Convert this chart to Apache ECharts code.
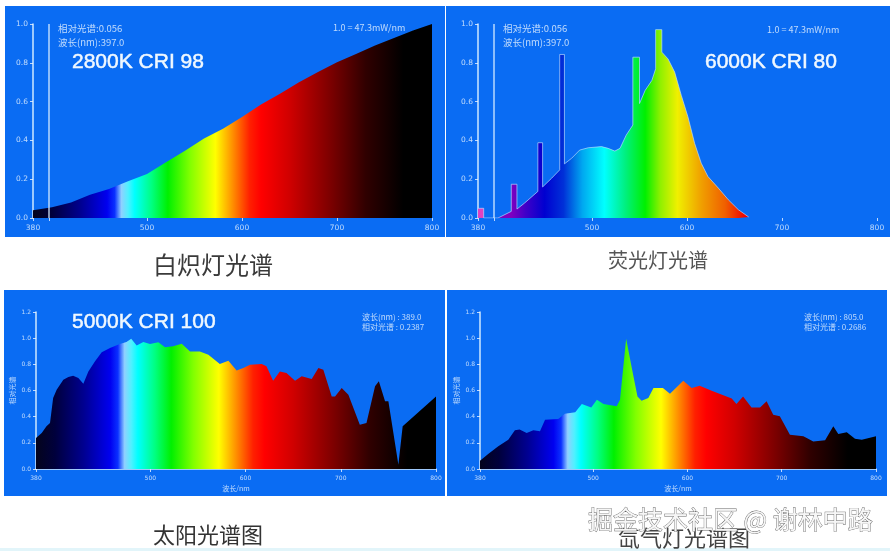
<!DOCTYPE html>
<html><head><meta charset="utf-8">
<style>html,body{margin:0;padding:0;background:#fff}#c{width:890px;height:551px;filter:blur(0.6px)}</style>
<script src="https://cdn.jsdelivr.net/npm/echarts@6/dist/echarts.min.js"></script>
</head><body><div id="c"></div>
<script>
// Wavelengths (nm) and relative spectral power
const incWl = [380,400,420,440,460,480,500,520,540,560,580,600,620,640,660,680,700,720,740,760,780,800];
const incVal = [0.04,0.056,0.08,0.12,0.15,0.19,0.227,0.287,0.347,0.41,0.46,0.52,0.585,0.64,0.70,0.752,0.803,0.846,0.889,0.928,0.966,1.0];

const fluoWl = [380,386,386,401,415,415,421,421,429,443,443,448,448,457.5,466,466,471,471,478.6,487,496,510,517,524,529.5,536,543,543,550,550,556,563,567,567,573.5,573.5,580,587,594,601,608,615,622,633,643.5,654,665];
const fluoVal = [0.05,0.05,0,0,0.034,0.174,0.174,0.046,0.077,0.137,0.388,0.388,0.16,0.205,0.248,0.843,0.843,0.279,0.308,0.35,0.362,0.368,0.359,0.345,0.359,0.427,0.479,0.829,0.829,0.59,0.658,0.709,0.769,0.971,0.971,0.855,0.82,0.752,0.632,0.521,0.385,0.282,0.214,0.154,0.094,0.043,0.005];

const sunWl = [380,386,391,394.7,398,401.7,408.7,414,419,424.5,429.7,435,442,449,457.7,468,475,480,485.7,492.7,499.7,508.5,515.5,524,533,541.7,552,561,573,582,590.7,597.7,604.7,617,622,629,636,643,652,659,669.5,676.5,681.7,690.5,694,701,708,720,727,736,740,746.5,750,760.5,765,800];
const sunVal = [0.237,0.275,0.326,0.352,0.543,0.606,0.683,0.703,0.713,0.696,0.652,0.746,0.823,0.892,0.925,0.955,0.971,0.996,0.943,0.971,0.955,0.968,0.93,0.938,0.958,0.899,0.899,0.874,0.803,0.828,0.752,0.772,0.797,0.803,0.785,0.675,0.746,0.734,0.675,0.708,0.688,0.772,0.759,0.555,0.555,0.619,0.568,0.339,0.352,0.632,0.67,0.517,0.517,0.033,0.326,0.555];

const xenonWl = [380,389,399.4,410,417,422,429.5,436.6,443.6,449,463,470,481,488,498,504,511,525,528.5,535,541,547,551.4,558.5,564,574,581.5,595.6,604.5,613,625.7,647,652,659,668,677,684,691,698,708.7,723,733.5,746,754.7,760,769,777.7,785,800];
const xenonVal = [0.064,0.117,0.173,0.224,0.296,0.301,0.275,0.296,0.288,0.377,0.382,0.423,0.433,0.497,0.471,0.53,0.497,0.479,0.53,0.996,0.772,0.555,0.522,0.543,0.619,0.619,0.576,0.675,0.619,0.637,0.599,0.538,0.497,0.555,0.471,0.471,0.517,0.415,0.403,0.262,0.25,0.211,0.219,0.326,0.268,0.28,0.232,0.224,0.25];

// Tick labels
const xTicks = [380,500,600,700,800];
const cursorWl = 397;

// Colour bands: wavelength, colour
const bandsThermal = [[380,'#04041c'],[400,'#00003c'],[430,'#000090'],[458,'#0000f0'],[466,'#0a30ff'],[473,'#90d0ff'],[480,'#50f0ff'],[487,'#00ffff'],[505,'#00ff80'],[522,'#00f000'],[545,'#80ff00'],[572,'#ffff00'],[590,'#ff9000'],[608,'#ff2000'],[620,'#ff0000'],[650,'#d00000'],[695,'#780000'],[730,'#300000'],[770,'#000000'],[800,'#000000']];
const bandsFluo = [[380,'#e040c0'],[386,'#e040c0'],[392,'#7000c0'],[415,'#8000c0'],[430,'#4000c8'],[450,'#0000d0'],[470,'#0030d8'],[490,'#00a8f0'],[513,'#00ffff'],[535,'#00f080'],[556,'#00f000'],[572,'#90f000'],[590,'#f0f000'],[615,'#f0a000'],[640,'#f06000'],[662,'#f00000']];

const panels = [
  {wl:incWl, val:incVal, bands:bandsThermal, left:33, top:24, width:399, height:194, max:1, cursor:true, line:0, tick:7.5},
  {wl:fluoWl, val:fluoVal, bands:bandsFluo, left:478, top:24, width:399, height:194, max:1, cursor:true, line:1, tick:7.5},
  {wl:sunWl, val:sunVal, bands:bandsThermal, left:36, top:312, width:400, height:157, max:1.2, name:true, line:0, tick:6},
  {wl:xenonWl, val:xenonVal, bands:bandsThermal, left:480, top:312, width:396, height:157, max:1.2, name:true, line:0, tick:6}
];

const ink = 'rgba(235,245,255,0.8)';
const cjk = '"Noto Sans CJK SC","Liberation Sans",sans-serif';

const rects = [[5,6,440,231],[446,6,444,231],[4,290,441,206],[447,290,440,206]].map(r => ({
  type:'rect', z:-10, silent:true, shape:{x:r[0],y:r[1],width:r[2],height:r[3]}, style:{fill:'#0a6cf3'}
}));
rects.push({type:'rect', z:-10, silent:true, shape:{x:0,y:548,width:890,height:3}, style:{fill:'#e2f5fa'}});

const label = (text,x,y,size,fill,extra) => ({
  type:'text', z:50, silent:true, x, y,
  style:Object.assign({text, fill, font:`${size}px ${cjk}`, textVerticalAlign:'middle'}, extra||{})
});
const big = (text,x,y) => ({type:'text', z:50, silent:true, x, y,
  style:{text, fill:'#f0f8ff', stroke:'#f0f8ff', lineWidth:0.5, font:'21px "Liberation Sans",sans-serif', textVerticalAlign:'middle'}});

const texts = [
  big('2800K CRI 98',72,62), big('6000K CRI 80',705,62), big('5000K CRI 100',72,322),
  label('相对光谱:0.056',58,28,9.5,ink), label('波长(nm):397.0',58,42,9.5,ink), label('1.0 = 47.3mW/nm',333,28,9,ink),
  label('相对光谱:0.056',503,28,9.5,ink), label('波长(nm):397.0',503,42,9.5,ink), label('1.0 = 47.3mW/nm',767,30,9,ink),
  label('波长(nm) : 389.0',362,317,8,ink), label('相对光谱 : 0.2387',362,327,8,ink),
  label('波长(nm) : 805.0',804,317,8,ink), label('相对光谱 : 0.2686',804,327,8,ink),
  label('白炽灯光谱',153,265,24,'#3a3a3a'), label('荧光灯光谱',608,260,20,'#555'),
  label('太阳光谱图',153,535,22,'#333'), label('氙气灯光谱图',618,538,22,'#444'),
  label('掘金技术社区 @ 谢林中路',588,519,25,'#f6f6f6',{stroke:'#666',lineWidth:0.8})
];

const option = {
  animation:false,
  backgroundColor:'#fff',
  graphic:{elements:rects.concat(texts)},
  grid:panels.map(p=>({left:p.left,top:p.top,width:p.width,height:p.height,containLabel:false})),
  xAxis:panels.map((p,i)=>({
    type:'value', gridIndex:i, min:380, max:800,
    splitLine:{show:false},
    name:p.name?'波长/nm':'', nameLocation:'middle', nameGap:16, nameTextStyle:{color:ink,fontSize:7,fontFamily:cjk},
    axisLine:{show:!p.cursor,lineStyle:{color:'#cfe8ff',width:1.5}},
    axisTick:{show:true,length:3,lineStyle:{color:ink},customValues:p.cursor?xTicks.concat([cursorWl]):xTicks},
    axisLabel:{show:true,color:ink,fontSize:p.tick,margin:6,fontFamily:'"DejaVu Sans",sans-serif',hideOverlap:false,customValues:xTicks,showMinLabel:true,showMaxLabel:true}
  })),
  yAxis:panels.map((p,i)=>({
    type:'value', gridIndex:i, min:0, max:p.max, interval:0.2,
    splitLine:{show:false},
    name:p.name?'相对光谱':'', nameLocation:'middle', nameGap:20, nameRotate:90, nameTextStyle:{color:ink,fontSize:7,fontFamily:cjk},
    axisLine:{show:true,lineStyle:{color:'#cfe8ff',width:1.5}},
    axisTick:{show:true,length:3,lineStyle:{color:ink}},
    axisLabel:{color:ink,fontSize:p.tick,margin:5,fontFamily:'"DejaVu Sans",sans-serif',formatter:v=>v.toFixed(1)}
  })),
  series:panels.map((p,i)=>{
    const last = p.wl[p.wl.length-1];
    return {
      type:'line', xAxisIndex:i, yAxisIndex:i, symbol:'none', silent:true, z:3,
      data:p.wl.map((w,k)=>[w,p.val[k]]),
      lineStyle:p.line?{color:'rgba(190,225,255,0.65)',width:1}:{width:0,opacity:0},
      areaStyle:{opacity:1,color:{type:'linear',x:0,y:0,x2:1,y2:0,
        colorStops:p.bands.map(b=>({offset:(b[0]-380)/(last-380),color:b[1]}))}},
      markLine:p.cursor?{silent:true,symbol:'none',label:{show:false},
        lineStyle:{color:'rgba(215,235,255,0.85)',type:'solid',width:1.5},data:[{xAxis:cursorWl}]}:undefined
    };
  })
};
echarts.init(document.getElementById('c'),null,{renderer:'canvas'}).setOption(option);
</script></body></html>
